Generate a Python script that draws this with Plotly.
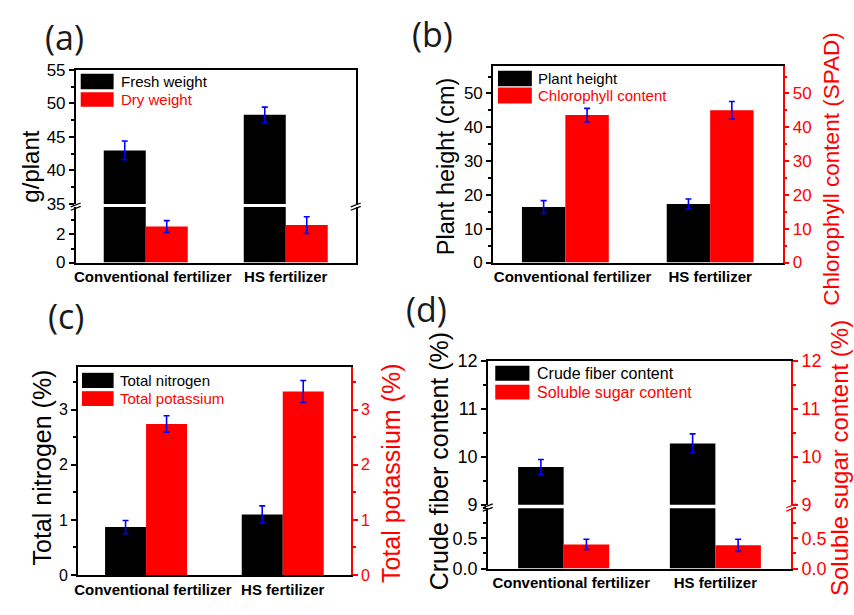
import plotly.graph_objects as go

# ---------------- data ----------------
categories = ["Conventional fertilizer", "HS fertilizer"]

fresh_weight = [43.0, 48.3]
fresh_weight_err = [1.4, 1.15]
dry_weight = [2.57, 2.67]
dry_weight_err = [0.42, 0.6]

plant_height = [16.4, 17.3]
plant_height_err = [1.9, 1.5]
chlorophyll = [43.6, 45.0]
chlorophyll_err = [2.0, 2.6]

total_nitrogen = [0.87, 1.10]
total_nitrogen_err = [0.12, 0.155]
total_potassium = [2.74, 3.33]
total_potassium_err = [0.15, 0.2]

crude_fiber = [9.79, 10.28]
crude_fiber_err = [0.155, 0.2]
soluble_sugar = [0.40, 0.385]
soluble_sugar_err = [0.085, 0.1]

# ---------------- helpers ----------------
W, H = 854, 615


def fx(p):
    return p / W


def fy(p):
    return 1 - p / H


xpos = list(range(len(categories)))
label_pos = [0.05, 1.0]

FONT = "Liberation Sans"
BLACK, RED, BLUE = "#000000", "#ff0000", "#0000ff"

fig = go.Figure()


def add_bar(values, errs, color, xa, ya, offset, name):
    fig.add_trace(go.Bar(
        x=xpos, y=values, name=name, xaxis=xa, yaxis=ya,
        width=0.3, offset=offset,
        marker=dict(color=color, line=dict(width=0)),
        error_y=dict(type="data", array=errs, color=BLUE, thickness=1.6, width=3),
        showlegend=False, cliponaxis=True))


def xaxis(dom, anchor, side="bottom", labels=True, mirror=False, tsize=15):
    return dict(domain=[fx(dom[0]), fx(dom[1])], anchor=anchor, range=[-0.5, 1.5],
                showline=True, linecolor=BLACK, linewidth=1.5, mirror=mirror,
                ticks="", showgrid=False, zeroline=False,
                tickmode="array", tickvals=label_pos, ticktext=categories,
                showticklabels=labels, side=side,
                tickfont=dict(family=FONT, size=tsize, color=BLACK, weight="bold"))


def yaxis(dom, rng, anchor, color=BLACK, side="left", overlaying=None, dtick=None,
          tick0=0, minor=None, minor0=0, tickvals=None, ticktext=None, tsize=17,
          mirror=False):
    d = dict(domain=[fy(dom[1]), fy(dom[0])], range=rng, anchor=anchor, side=side,
             showline=True, linecolor=color, linewidth=1.5, mirror=mirror,
             ticks="outside", ticklen=5, tickwidth=1.5, tickcolor=color,
             tickfont=dict(family=FONT, size=tsize, color=color),
             showgrid=False, zeroline=False)
    if tickvals is not None:
        d.update(tickmode="array", tickvals=tickvals, ticktext=ticktext)
    elif dtick is not None:
        d.update(tickmode="linear", dtick=dtick, tick0=tick0)
    if minor is not None:
        d["minor"] = dict(dtick=minor, tick0=minor0, ticks="outside", ticklen=3,
                          tickwidth=1.5, tickcolor=color, showgrid=False)
    if overlaying:
        d["overlaying"] = overlaying
    return d


shapes = []
annotations = []


def break_mark(xp, yp, color=BLACK):
    for dy in (0, 3.5):
        shapes.append(dict(type="line", xref="paper", yref="paper",
                           x0=fx(xp - 5), y0=fy(yp + 1.5 + dy),
                           x1=fx(xp + 5), y1=fy(yp - 2.5 + dy),
                           line=dict(color=color, width=1.3), layer="above"))


def legend_item(x0, x1, y0, y1, color, text, tx, size=15):
    shapes.append(dict(type="rect", xref="paper", yref="paper",
                       x0=fx(x0), x1=fx(x1), y0=fy(y1), y1=fy(y0),
                       fillcolor=color, line=dict(width=0), layer="above"))
    annotations.append(dict(text=text, xref="paper", yref="paper", x=fx(tx),
                            y=fy((y0 + y1) / 2), xanchor="left", yanchor="middle",
                            showarrow=False,
                            font=dict(family=FONT, size=size, color=color)))


def vtitle(text, xc, yc, color=BLACK, size=23):
    annotations.append(dict(text=text, xref="paper", yref="paper", x=fx(xc), y=fy(yc),
                            xanchor="center", yanchor="middle", textangle=-90,
                            showarrow=False, font=dict(family=FONT, size=size, color=color)))


def panel_label(text, xc, yc):
    annotations.append(dict(text=text, xref="paper", yref="paper", x=fx(xc), y=fy(yc),
                            xanchor="center", yanchor="middle", showarrow=False,
                            font=dict(family="Open Sans", size=34, color="#1a1a1a")))


layout = {}

# ---------------- panel (a): broken axis ----------------
a_x = (73, 354)
a_up = (62, 200.5)
a_lo = (203.5, 261)
add_bar(fresh_weight, fresh_weight_err, BLACK, "x", "y", -0.3, "Fresh weight")
add_bar(dry_weight, dry_weight_err, RED, "x", "y", 0.0, "Dry weight")
add_bar(fresh_weight, fresh_weight_err, BLACK, "x2", "y2", -0.3, "Fresh weight")
add_bar(dry_weight, dry_weight_err, RED, "x2", "y2", 0.0, "Dry weight")
layout["xaxis"] = xaxis(a_x, "y")
layout["xaxis2"] = xaxis(a_x, "y2", side="top", labels=False)
layout["xaxis2"]["matches"] = "x"
layout["yaxis"] = yaxis(a_lo, [0, 3.97], "x", dtick=2, minor=1, mirror=True)
layout["yaxis2"] = yaxis(a_up, [35, 55], "x2", dtick=5, tick0=35, minor=2.5, minor0=35,
                         mirror=True)
break_mark(a_x[0], 202)
break_mark(a_x[1], 202)
legend_item(78, 111, 66, 82, BLACK, "Fresh weight", 116)
legend_item(78, 111, 85, 100, RED, "Dry weight", 116)
vtitle("g/plant", 28, 162, size=24)
panel_label("(a)", 62, 28)

# ---------------- panel (b): dual axis ----------------
b_x = (491.7, 782.3)
b_y = (58.3, 261)
add_bar(plant_height, plant_height_err, BLACK, "x3", "y3", -0.3, "Plant height")
add_bar(chlorophyll, chlorophyll_err, RED, "x3", "y4", 0.0, "Chlorophyll content")
layout["xaxis3"] = xaxis(b_x, "y3", mirror=True)
layout["yaxis3"] = yaxis(b_y, [0, 58], "x3", dtick=10, minor=5)
layout["yaxis4"] = yaxis(b_y, [0, 58], "x3", color=RED, side="right", overlaying="y3",
                         dtick=10, minor=5)
legend_item(496.7, 530.7, 62.7, 78.7, BLACK, "Plant height", 535)
legend_item(496.7, 530.7, 80, 96.7, RED, "Chlorophyll content", 535)
vtitle("Plant height (cm)", 444, 161, size=23.5)
vtitle("Chlorophyll content (SPAD)", 832, 165, color=RED, size=22.5)
panel_label("(b)", 431, 25)

# ---------------- panel (c): dual axis ----------------
c_x = (75, 349.3)
c_y = (369.3, 584)
add_bar(total_nitrogen, total_nitrogen_err, BLACK, "x4", "y5", -0.3, "Total nitrogen")
add_bar(total_potassium, total_potassium_err, RED, "x4", "y6", 0.0, "Total potassium")
layout["xaxis4"] = xaxis(c_x, "y5", mirror=True)
layout["yaxis5"] = yaxis(c_y, [0, 3.77], "x4", dtick=1, minor=0.5, tsize=16)
layout["yaxis6"] = yaxis(c_y, [0, 3.77], "x4", color=RED, side="right", overlaying="y5",
                         dtick=1, minor=0.5, tsize=16)
legend_item(79.3, 111, 375, 390.7, BLACK, "Total nitrogen", 115.7)
legend_item(79.3, 111, 394, 409.3, RED, "Total potassium", 115.7)
vtitle("Total nitrogen (%)", 39, 473, size=25)
vtitle("Total potassium (%)", 390, 479, color=RED, size=25)
panel_label("(c)", 63, 316)

# ---------------- panel (d): broken dual axis ----------------
d_x = (486.5, 791)
d_up = (362.7, 511.5)
d_lo = (515, 577.3)
add_bar(crude_fiber, crude_fiber_err, BLACK, "x5", "y7", -0.3, "Crude fiber content")
add_bar(soluble_sugar, soluble_sugar_err, RED, "x5", "y8", 0.0, "Soluble sugar content")
add_bar(crude_fiber, crude_fiber_err, BLACK, "x6", "y9", -0.3, "Crude fiber content")
add_bar(soluble_sugar, soluble_sugar_err, RED, "x6", "y10", 0.0, "Soluble sugar content")
layout["xaxis5"] = xaxis(d_x, "y7")
layout["xaxis6"] = xaxis(d_x, "y9", side="top", labels=False)
layout["xaxis6"]["matches"] = "x5"
lo_ticks = [0, 0.5]
lo_text = ["0.0", "0.5"]
layout["yaxis7"] = yaxis(d_lo, [0, 1.0], "x5", tickvals=lo_ticks, ticktext=lo_text,
                         minor=0.25, tsize=18)
layout["yaxis8"] = yaxis(d_lo, [0, 1.0], "x5", color=RED, side="right", overlaying="y7",
                         tickvals=lo_ticks, ticktext=lo_text, minor=0.25, tsize=18)
layout["yaxis9"] = yaxis(d_up, [9, 12], "x6", dtick=1, tick0=9, minor=0.5, minor0=9, tsize=18)
layout["yaxis10"] = yaxis(d_up, [9, 12], "x6", color=RED, side="right", overlaying="y9",
                          dtick=1, tick0=9, minor=0.5, minor0=9, tsize=18)
break_mark(d_x[0], 513)
break_mark(d_x[1], 513, RED)
legend_item(494, 528.3, 367.7, 383.3, BLACK, "Crude fiber content", 534, size=16)
legend_item(494, 528.3, 387.3, 402.7, RED, "Soluble sugar content", 534, size=16)
vtitle("Crude fiber content (%)", 437, 466, size=25)
vtitle("Soluble sugar content (%)", 840, 463, color=RED, size=24)
panel_label("(d)", 425, 309)

fig.update_layout(
    width=W, height=H, margin=dict(l=0, r=0, t=0, b=0),
    paper_bgcolor="white", plot_bgcolor="white",
    showlegend=False, barmode="overlay",
    shapes=shapes, annotations=annotations,
    **layout,
)

fig.write_html("out.html")
